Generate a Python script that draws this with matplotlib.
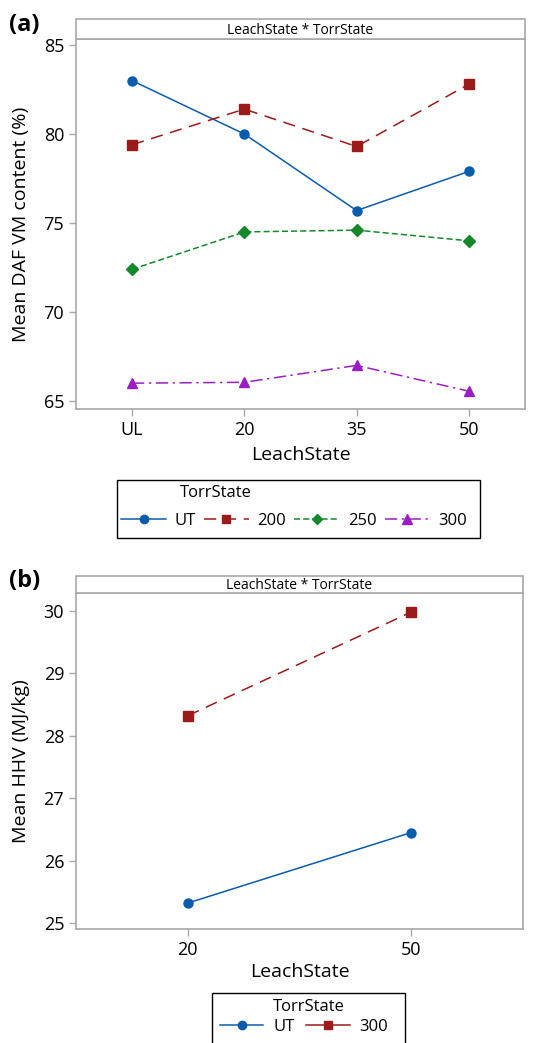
import matplotlib.pyplot as plt
from matplotlib.lines import Line2D
from matplotlib.patches import Rectangle
import numpy as np

plt.rcParams['font.family'] = ['Open Sans', 'DejaVu Sans']

# datos panel (a)
leach_a = ['UL', '20', '35', '50']
vm_ut = [83.0, 80.0, 75.7, 77.9]
vm_200 = [79.4, 81.4, 79.3, 82.8]
vm_250 = [72.4, 74.5, 74.6, 74.0]
vm_300 = [66.0, 66.05, 67.0, 65.55]

# datos panel (b)
leach_b = ['20', '50']
hhv_ut = [25.32, 26.45]
hhv_300 = [28.32, 29.98]

c_ut = '#0b5cad'
c_200 = '#9b1b1b'
c_250 = '#14892c'
c_300 = '#9a1fc2'
gris = '#a8a8a8'
H = 1043
W = 537

fig = plt.figure(figsize=(5.37, 10.43), dpi=100)


def estilo(ax, top_px, strip_px):
    for s in ax.spines.values():
        s.set_color(gris)
        s.set_linewidth(1.2)
    ax.tick_params(colors=gris, labelcolor='black', labelsize=13, length=5, width=1)
    # franja superior
    x0 = ax.get_position().x0
    x1 = ax.get_position().x1
    y0 = 1 - strip_px / H
    y1 = 1 - top_px / H
    fig.patches.append(Rectangle((x0, y0), x1 - x0, y1 - y0, transform=fig.transFigure,
                                 facecolor='white', edgecolor=gris, linewidth=1.2))
    fig.text((x0 + x1) / 2, (y0 + y1) / 2 - 0.001, 'LeachState * TorrState', ha='center',
             va='center', fontsize=10)


def leyenda(handles, labels, box, title_xy, entries_xy, hl=2.7, cs=0.5, tp=0.5):
    # marco manual, titulo y entradas
    x0, y0, x1, y1 = box
    fig.patches.append(Rectangle((x0 / W, 1 - y1 / H), (x1 - x0) / W, (y1 - y0) / H,
                                 transform=fig.transFigure, facecolor='white',
                                 edgecolor='black', linewidth=1.0))
    fig.text(title_xy[0] / W, 1 - title_xy[1] / H, 'TorrState', fontsize=12,
             va='center', ha='left')
    fig.legend(handles, labels, ncol=len(labels), loc='center left',
               bbox_to_anchor=(entries_xy[0] / W, 1 - entries_xy[1] / H),
               fontsize=12, frameon=False, handlelength=hl, columnspacing=cs,
               handletextpad=tp, borderpad=0, borderaxespad=0)


# (a)
ax1 = fig.add_axes([76 / W, 1 - 409 / H, 449 / W, 370 / H])
x = np.arange(len(leach_a))
ax1.plot(x, vm_ut, color=c_ut, lw=1.1, marker='o', ms=6.5)
ax1.plot(x, vm_200, color=c_200, lw=1.1, ls=(0, (8, 5)), marker='s', ms=6.5)
ax1.plot(x, vm_250, color=c_250, lw=1.1, ls=(0, (4, 2)), marker='D', ms=6)
ax1.plot(x, vm_300, color=c_300, lw=1.1, ls=(0, (8, 3, 1.5, 3)), marker='^', ms=7)
ax1.set_xlim(-0.5, 3.5)
ax1.set_ylim(64.55, 85.34)
ax1.set_xticks(x)
ax1.set_xticklabels(leach_a)
ax1.set_yticks([65, 70, 75, 80, 85])
ax1.set_xlabel('LeachState', fontsize=14, labelpad=5)
ax1.set_ylabel('Mean DAF VM content (%)', fontsize=14, labelpad=10)
estilo(ax1, 19, 39)
fig.text(9 / W, 1 - 25 / H, '(a)', fontsize=17, fontweight='bold', va='center')

h1 = [Line2D([], [], color=c_ut, lw=1.1, marker='o', ms=6),
      Line2D([], [], color=c_200, lw=1.1, ls=(0, (8, 5)), marker='s', ms=6),
      Line2D([], [], color=c_250, lw=1.1, ls=(0, (4, 2)), marker='D', ms=5.5),
      Line2D([], [], color=c_300, lw=1.1, ls=(0, (8, 3, 1.5, 3)), marker='^', ms=6.5)]
leyenda(h1, ['UT', '200', '250', '300'], (117, 480, 480, 538), (180, 493), (121, 521))

# (b)
ax2 = fig.add_axes([76 / W, 1 - 928.7 / H, 447 / W, 335.4 / H])
xb = np.arange(len(leach_b))
ax2.plot(xb, hhv_ut, color=c_ut, lw=1.1, marker='o', ms=6.5)
ax2.plot(xb, hhv_300, color=c_200, lw=1.1, ls=(0, (8, 5)), marker='s', ms=6.5)
ax2.set_xlim(-0.5, 1.5)
ax2.set_ylim(24.91, 30.28)
ax2.set_xticks(xb)
ax2.set_xticklabels(leach_b)
ax2.set_yticks([25, 26, 27, 28, 29, 30])
ax2.set_xlabel('LeachState', fontsize=14, labelpad=3)
ax2.set_ylabel('Mean HHV (MJ/kg)', fontsize=14, labelpad=10)
estilo(ax2, 576, 593.3)
fig.text(9 / W, 1 - 581 / H, '(b)', fontsize=17, fontweight='bold', va='center')

h2 = [Line2D([], [], color=c_ut, lw=1.1, marker='o', ms=6),
      Line2D([], [], color=c_200, lw=1.1, marker='s', ms=6)]
leyenda(h2, ['UT', '300'], (212, 993, 405, 1060), (273, 1007), (220, 1027),
        hl=2.6, cs=0.7, tp=0.6)

fig.savefig('out.png', dpi=100)
